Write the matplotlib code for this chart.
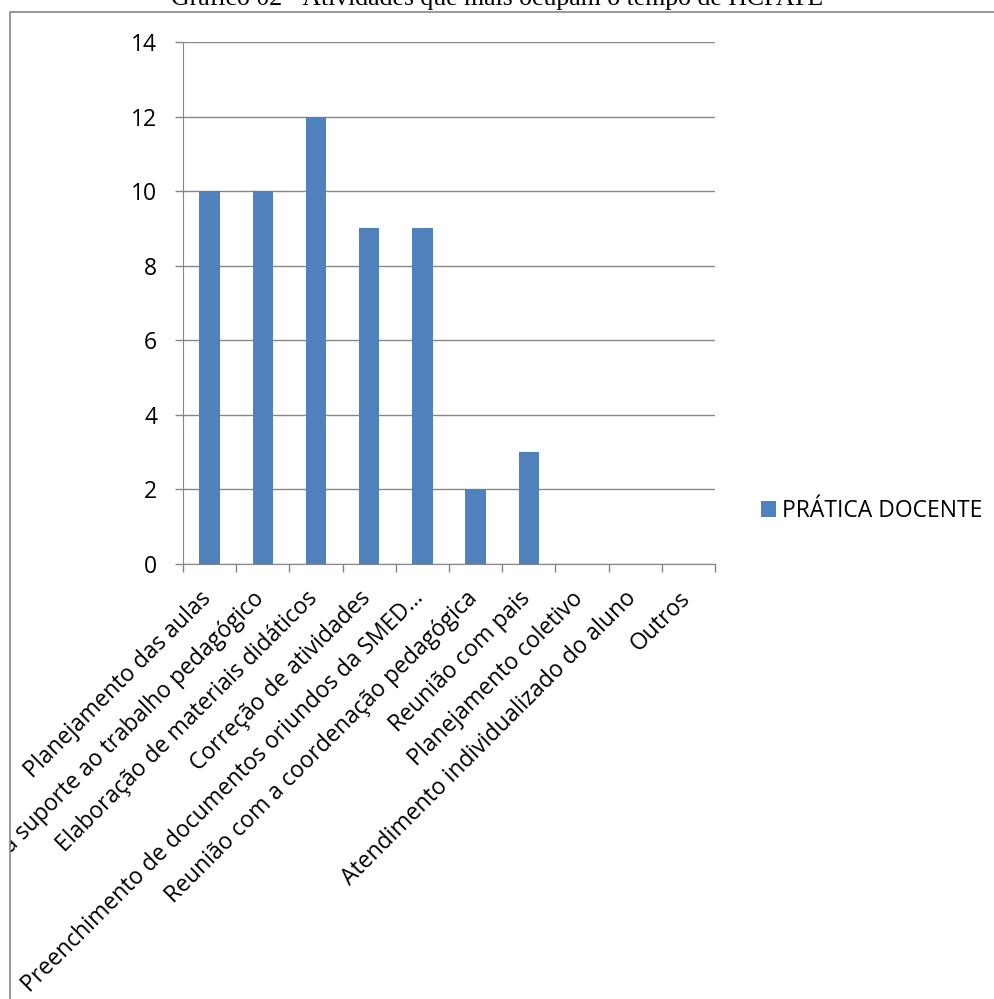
import matplotlib.pyplot as plt
from matplotlib.patches import Rectangle

categorias = [
    "Planejamento das aulas",
    "Pesquisa para suporte ao trabalho pedagógico",
    "Elaboração de materiais didáticos",
    "Correção de atividades",
    "Preenchimento de documentos oriundos da SMED…",
    "Reunião com a coordenação pedagógica",
    "Reunião com pais",
    "Planejamento coletivo",
    "Atendimento individualizado do aluno",
    "Outros",
]
valores = [10, 10, 12, 9, 9, 2, 3, 0, 0, 0]
serie = "PRÁTICA DOCENTE"
titulo = "Gráfico 02 - Atividades que mais ocupam o tempo de HCPATE"
yticks = [0, 2, 4, 6, 8, 10, 12, 14]

W, H = 995, 999
fig = plt.figure(figsize=(W / 100, H / 100), dpi=100)
font = ["Open Sans", "DejaVu Sans"]
cinza = "#868686"
azul = "#4F81BD"
fs = 16.5

# moldura do gráfico
moldura = Rectangle((10 / W, -0.1), 1.2, 1 - 12 / H + 0.1,
                    transform=fig.transFigure, fill=False,
                    edgecolor=cinza, linewidth=1.2)
fig.patches.append(moldura)
# título cortado na borda superior, como no original
fig.text(497 / W, 1 - 5 / H, titulo, ha="center", va="baseline",
         fontsize=18.5, family=["Liberation Serif", "DejaVu Serif"])

ax = fig.add_axes([183 / W, 1 - 564 / H, (715 - 183) / W, (564 - 42) / H])
x = list(range(len(categorias)))
ax.bar(x, valores, width=0.38, color=azul, zorder=3, label=serie)
ax.set_xlim(-0.5, len(categorias) - 0.5)
ax.set_ylim(0, 14)
ax.set_yticks(yticks)
ax.set_yticklabels([str(v) for v in yticks], family=font, fontsize=fs)
ax.yaxis.grid(True, color=cinza, linewidth=1, zorder=0)
ax.set_xticks([i - 0.5 for i in range(len(categorias) + 1)])
ax.set_xticklabels([])
ax.tick_params(axis="both", direction="out", length=6, color=cinza, width=1)
ax.tick_params(axis="y", pad=12.5)
for s in ["top", "right"]:
    ax.spines[s].set_visible(False)
for s in ["left", "bottom"]:
    ax.spines[s].set_color(cinza)
    ax.spines[s].set_zorder(4)

for i, nome in enumerate(categorias):
    t = ax.annotate(nome, xy=(i, 0), xycoords=("data", "axes fraction"),
                    xytext=(-2, -31), textcoords="offset pixels",
                    rotation=45, rotation_mode="anchor", ha="right", va="center",
                    fontsize=fs, family=font, annotation_clip=False)
    t.set_clip_path(moldura)

leg = fig.legend(loc="center left", bbox_to_anchor=(740 / W, 1 - 511 / H),
                 frameon=False, prop={"family": font, "size": fs},
                 handlelength=0.65, handleheight=0.65, handletextpad=0.3)

fig.savefig("out.png", dpi=100)
